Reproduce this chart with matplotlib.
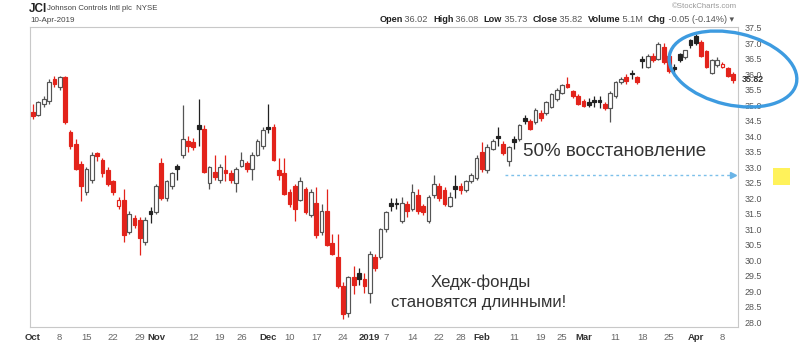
import numpy as np
import pandas as pd
import matplotlib
matplotlib.use("Agg")
import matplotlib.pyplot as plt
from matplotlib.patches import Ellipse, Rectangle
from matplotlib.transforms import IdentityTransform

plt.rcParams['font.family'] = ['Liberation Sans', 'DejaVu Sans']

# trading days, Oct 1 2018 .. Apr 10 2019
holidays = ['2018-11-22', '2018-12-05', '2018-12-25',
            '2019-01-01', '2019-01-21', '2019-02-18']
days = pd.bdate_range('2018-10-01', '2019-04-10').drop(pd.to_datetime(holidays))

# OHLC
opens = [34.80, 34.70, 35.05, 35.15, 35.85, 35.60, 35.90, 34.15, 33.75, 33.10,
         32.20, 32.60, 33.45, 33.25, 32.90, 32.55, 31.75, 31.95, 30.90, 31.35,
         31.30, 30.60, 31.60,
         31.55, 33.15, 32.00, 32.40, 33.05, 33.40, 33.85, 33.80, 34.35, 34.25,
         32.50, 32.85, 32.60, 32.90, 32.80, 32.50, 33.05, 33.15, 32.95, 33.40,
         33.70,
         34.30, 34.30, 32.90, 32.80, 32.20, 32.40, 31.95, 32.30, 31.45, 31.85,
         30.90, 31.60, 30.55, 30.10, 29.15, 28.30, 29.45, 29.60, 29.40,
         28.95, 30.10, 30.10, 31.00, 31.85, 31.85, 31.25, 31.80, 31.65, 32.10,
         31.75, 31.25, 32.10, 32.40, 32.25, 31.75, 32.40, 32.40, 32.25, 32.55,
         32.65,
         33.50, 32.90, 33.60, 34.00, 33.75, 33.20, 33.90, 33.90, 34.60, 34.50,
         34.45, 34.75, 34.75, 34.95, 35.20, 35.40, 35.70, 35.45, 35.30,
         35.15, 35.10, 35.15, 35.15, 35.05, 34.90, 35.30, 35.75, 35.90, 36.05,
         35.90, 36.50, 36.25, 36.60, 36.50, 36.90, 36.60, 36.25, 36.65, 36.55,
         37.10,
         37.25, 37.05, 36.75, 36.05, 36.30, 36.25, 36.20, 36.02]
highs = [35.05, 35.15, 35.30, 35.85, 35.95, 35.95, 35.95, 34.20, 33.90, 33.20,
         33.00, 33.50, 33.50, 33.30, 33.00, 32.60, 32.05, 32.30, 31.60, 31.45,
         31.40, 31.40, 31.70,
         32.45, 33.30, 32.60, 32.85, 33.10, 35.00, 34.00, 33.95, 35.20, 34.35,
         33.05, 33.40, 33.10, 33.40, 32.90, 33.00, 33.50, 33.20, 33.50, 33.90,
         34.30,
         35.05, 34.40, 33.30, 33.30, 32.30, 32.45, 32.70, 32.35, 32.30, 32.35,
         31.80, 32.30, 30.85, 30.85, 29.30, 29.50, 29.80, 29.75, 29.60,
         30.30, 30.20, 31.05, 31.60, 32.00, 32.00, 32.05, 31.90, 32.45, 32.30,
         31.80, 32.10, 32.75, 32.50, 32.35, 32.20, 32.75, 32.50, 32.60, 32.80,
         33.40,
         33.80, 33.75, 33.90, 34.30, 33.85, 33.70, 34.00, 34.40, 34.70, 34.55,
         34.90, 34.85, 35.15, 35.40, 35.55, 35.70, 35.90, 35.50, 35.35,
         35.20, 35.25, 35.30, 35.30, 35.10, 35.45, 35.80, 35.90, 36.00, 36.15,
         35.95, 36.60, 36.65, 36.70, 37.05, 37.00, 36.70, 36.35, 36.70, 36.80,
         37.15,
         37.30, 37.10, 36.80, 36.50, 36.55, 36.40, 36.25, 36.08]
lows = [34.55, 34.65, 34.95, 35.05, 35.60, 35.50, 34.40, 33.60, 32.90, 31.90,
        32.10, 32.50, 33.20, 32.70, 32.40, 32.10, 31.65, 30.60, 30.85, 31.05,
        30.15, 30.50, 31.20,
        31.50, 31.95, 31.90, 32.30, 32.60, 33.30, 33.50, 33.55, 33.70, 32.80,
        32.30, 32.60, 32.50, 32.55, 32.50, 32.20, 33.00, 32.85, 32.60, 33.35,
        33.60,
        34.10, 33.20, 32.60, 32.10, 31.70, 31.25, 31.90, 31.50, 31.40, 30.70,
        30.80, 30.45, 30.15, 29.10, 28.10, 28.15, 28.90, 29.20, 28.95,
        28.60, 29.65, 30.05, 30.90, 31.60, 31.65, 31.20, 31.40, 31.60, 31.50,
        31.45, 31.20, 32.00, 31.90, 31.75, 31.70, 32.00, 32.15, 32.20, 32.50,
        32.60,
        32.85, 32.80, 33.55, 33.70, 33.40, 33.05, 33.60, 33.85, 34.40, 34.20,
        34.40, 34.50, 34.70, 34.90, 35.15, 35.35, 35.55, 35.25, 35.00,
        34.95, 34.95, 34.95, 34.90, 34.85, 34.45, 35.25, 35.70, 35.70, 35.85,
        35.70, 36.20, 36.20, 36.40, 36.45, 36.35, 36.05, 35.95, 36.40, 36.50,
        36.85,
        36.95, 36.55, 36.20, 36.00, 36.25, 36.20, 35.90, 35.73]
closes = [34.65, 35.10, 35.20, 35.75, 35.70, 35.90, 34.45, 33.70, 32.95, 32.40,
          32.95, 33.40, 33.35, 32.80, 32.45, 32.20, 31.95, 30.80, 31.50, 31.15,
          30.70, 31.30, 31.50,
          32.40, 32.00, 32.55, 32.80, 32.95, 33.90, 33.70, 33.65, 34.25, 32.85,
          33.00, 32.70, 33.00, 32.80, 32.60, 32.95, 33.25, 32.95, 33.40, 33.85,
          34.20,
          34.25, 33.25, 32.75, 32.15, 31.80, 31.65, 32.55, 31.55, 32.20, 30.80,
          31.60, 30.50, 30.20, 29.15, 28.25, 29.45, 29.20, 29.40, 29.15,
          30.20, 29.75, 31.00, 31.55, 31.75, 31.80, 31.85, 31.60, 32.20, 31.60,
          31.55, 32.05, 32.45, 32.00, 31.80, 32.05, 32.30, 32.25, 32.55, 32.75,
          33.30,
          32.95, 33.65, 33.85, 33.95, 33.45, 33.65, 33.80, 34.35, 34.50, 34.25,
          34.85, 34.60, 35.10, 35.35, 35.50, 35.65, 35.60, 35.30, 35.05,
          34.98, 35.00, 35.10, 35.12, 34.90, 35.40, 35.75, 35.85, 35.78, 36.00,
          35.75, 36.42, 36.60, 36.45, 36.98, 36.40, 36.10, 36.17, 36.45, 36.78,
          36.95,
          37.00, 36.60, 36.25, 36.45, 36.45, 36.35, 35.95, 35.82]

tick_dates = ['2018-10-01', '2018-10-08', '2018-10-15', '2018-10-22', '2018-10-29',
              '2018-11-01', '2018-11-12', '2018-11-19', '2018-11-26',
              '2018-12-03', '2018-12-10', '2018-12-17', '2018-12-24',
              '2019-01-02', '2019-01-07', '2019-01-14', '2019-01-22', '2019-01-28',
              '2019-02-01', '2019-02-11', '2019-02-19', '2019-02-25',
              '2019-03-01', '2019-03-11', '2019-03-18', '2019-03-25',
              '2019-04-01', '2019-04-08']
tick_labels = ['Oct', '8', '15', '22', '29', 'Nov', '12', '19', '26',
               'Dec', '10', '17', '24', '2019', '7', '14', '22', '28',
               'Feb', '11', '19', '25', 'Mar', '11', '18', '25', 'Apr', '8']
month_labels = ['Oct', 'Nov', 'Dec', '2019', 'Feb', 'Mar', 'Apr']

RED = '#e3231b'
DARK = '#222222'
GREY_EDGE = '#555555'

fig = plt.figure(figsize=(8.06, 3.52), dpi=100)
ax = fig.add_axes([30 / 806, 25 / 352, 708 / 806, 300 / 352])

o = np.array(opens)
h = np.array(highs)
l = np.array(lows)
c = np.array(closes)
prev = np.r_[o[0], c[:-1]]
x = np.arange(len(c))

for i in x:
    down = c[i] < prev[i]
    filled = c[i] < o[i]
    if down:
        col = RED
        edge = RED
    else:
        col = DARK
        edge = DARK if filled else GREY_EDGE
    ax.vlines(i, l[i], h[i], color=edge, lw=0.9, zorder=2)
    lo = min(o[i], c[i])
    hgt = max(abs(c[i] - o[i]), 0.06)
    ax.bar(i, hgt, 0.7, bottom=lo, facecolor=col if filled else 'white',
           edgecolor=edge, lw=0.85, zorder=3)

ax.set_xlim(-0.56, 131.9)
ax.set_ylim(27.84, 37.53)

# axes styling
for s in ax.spines.values():
    s.set_color('#c8c8c8')
    s.set_linewidth(0.8)

yt = np.arange(28.0, 37.51, 0.5)
ax.yaxis.tick_right()
ax.set_yticks(yt)
ax.set_yticklabels(['%.1f' % v for v in yt])
ax.tick_params(axis='y', length=0, pad=5, labelsize=6.4, labelcolor='#555555')

tick_pos = [days.get_loc(pd.Timestamp(d)) for d in tick_dates]
ax.set_xticks(tick_pos)
ax.set_xticklabels(tick_labels)
ax.tick_params(axis='x', length=0, pad=4, labelsize=6.8, labelcolor='#666666')
for t in ax.get_xticklabels():
    if t.get_text() in month_labels:
        t.set_fontweight('bold')
        t.set_color('#333333')

# last price label (overlaps the scale, as in the original)
ax.text(1.006, closes[-1], '%.2f' % closes[-1], transform=ax.get_yaxis_transform(),
        ha='left', va='center', fontsize=6.4, fontweight='bold', color='#333333')

# annotations
ax.text(91.6, 33.52, '50% восстановление', fontsize=13.5, color='#333333',
        ha='left', va='center')
ax.plot([88.3, 131.0], [32.74, 32.74], ls=(0, (2, 2.2)), color='#7cc0ea', lw=1.0)
ax.plot([131.0], [32.74], marker='>', ms=5, color='#6ab4e6')
ax.text(83.8, 29.28, 'Хедж-фонды', fontsize=12, color='#333333',
        ha='center', va='center')
ax.text(83.3, 28.63, 'становятся длинными!', fontsize=12, color='#333333',
        ha='center', va='center')

fig.add_artist(Ellipse((733, 352 - 69), 130, 72, angle=-13, fill=False,
                       edgecolor='#3d9be0', lw=2.4, transform=IdentityTransform()))
fig.add_artist(Rectangle((773 / 806, (352 - 185) / 352), 17 / 806, 17 / 352,
                         transform=fig.transFigure, facecolor='#fff25a',
                         edgecolor='none'))

# header
fig.text(29 / 806, 1 - 9 / 352, 'JCI', fontsize=8.5, fontweight='bold',
         color='#222222', ha='left', va='center')
fig.text(47 / 806, 1 - 9 / 352, 'Johnson Controls Intl plc  NYSE', fontsize=5.6,
         color='#444444', ha='left', va='center')
fig.text(30 / 806, 1 - 20 / 352, '10-Apr-2019', fontsize=5.8,
         color='#444444', ha='left', va='center')
fig.text(737 / 806, 1 - 7 / 352, '\u00a9StockCharts.com', fontsize=5.6,
         color='#999999', ha='right', va='center')

parts = [('Open', True), (' 36.02  ', False), ('High', True), (' 36.08  ', False),
         ('Low', True), (' 35.73  ', False), ('Close', True), (' 35.82  ', False),
         ('Volume', True), (' 5.1M  ', False), ('Chg', True),
         (' -0.05 (-0.14%) \u25be', False)]
renderer = fig.canvas.get_renderer()
xpos = 734
for txt, bold in reversed(parts):
    t = fig.text(xpos / 806, 1 - 20 / 352, txt, fontsize=6.6,
                 fontweight='bold' if bold else 'normal',
                 color='#222222' if bold else '#555555', ha='right', va='center')
    xpos -= t.get_window_extent(renderer).width

fig.savefig('out.png', dpi=100)
